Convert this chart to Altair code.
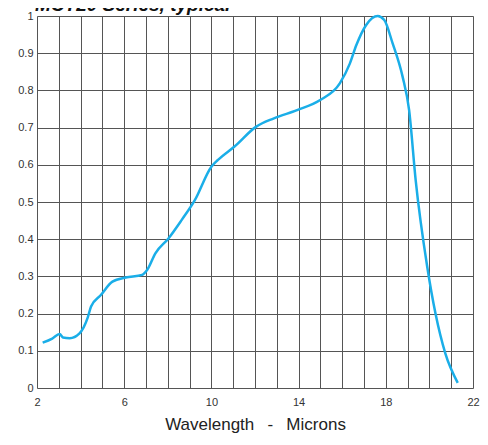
import altair as alt
import pandas as pd

wavelength = [2.26, 2.7, 3.04, 3.19, 3.5, 3.95, 4.33, 4.48, 4.93, 5.46, 6.07, 6.82, 7.05, 7.43,
              8.03, 8.64, 9.24, 10.0, 10.3, 11.06, 12.04, 12.87, 13.93, 14.99, 15.89, 16.35,
              16.65, 17.1, 17.63, 17.93, 18.31, 18.77, 19.07, 19.37, 19.9, 20.28, 20.73, 21.3]
response = [0.122, 0.133, 0.145, 0.136, 0.134, 0.147, 0.19, 0.219, 0.25, 0.286, 0.297, 0.304,
            0.317, 0.362, 0.402, 0.452, 0.505, 0.595, 0.613, 0.649, 0.702, 0.725, 0.747, 0.774,
            0.819, 0.872, 0.922, 0.976, 1.0, 0.989, 0.927, 0.837, 0.747, 0.559, 0.326, 0.2,
            0.093, 0.014]
x_ticks = list(range(2, 23))
y_ticks = [round(i * 0.1, 1) for i in range(11)]
title_text = ["MCT20 Series, typical"]
x_title = "Wavelength\u2002 -\u2002 Microns"

df = pd.DataFrame({"w": wavelength, "r": response})
FONT = "Liberation Sans"

line = alt.Chart(df).mark_line(color="#1aaee8", strokeWidth=2.5, interpolate="monotone").encode(
    x=alt.X("w:Q", scale=alt.Scale(domain=[2, 22], nice=False, zero=False),
            axis=alt.Axis(values=x_ticks, grid=True, gridColor="#555555", gridWidth=1,
                          gridOpacity=1, ticks=False, domain=False,
                          labelExpr="(datum.value - 2) % 4 == 0 ? datum.label : ''",
                          labelFont=FONT, labelFontSize=11, labelColor="#333333",
                          labelPadding=8, labelFlush=False,
                          title=x_title, titleFont=FONT, titleFontSize=17,
                          titleFontWeight="normal", titleColor="#222222", titlePadding=9)),
    y=alt.Y("r:Q", scale=alt.Scale(domain=[0, 1], nice=False),
            axis=alt.Axis(values=y_ticks, grid=True, gridColor="#555555", gridWidth=1,
                          gridOpacity=1, ticks=False, domain=False, format="~g",
                          labelFont=FONT, labelFontSize=11, labelColor="#333333",
                          labelPadding=4, labelFlush=False, title=None)),
)

title = alt.Chart(pd.DataFrame({"t": title_text})).mark_text(
    align="left", baseline="alphabetic", font=FONT, fontSize=19, fontStyle="italic",
    fontWeight="bold", color="#111111"
).encode(text="t:N", x=alt.value(-2), y=alt.value(-5))

chart = alt.layer(line, title).properties(
    width=436, height=372,
    autosize=alt.AutoSizeParams(type="none"),
    padding={"left": 29, "top": 8, "right": 7, "bottom": 49},
).configure_view(stroke="#555555", strokeWidth=1).configure(background="white")

chart.save("out.html", embed_options={"renderer": "svg", "actions": False})
